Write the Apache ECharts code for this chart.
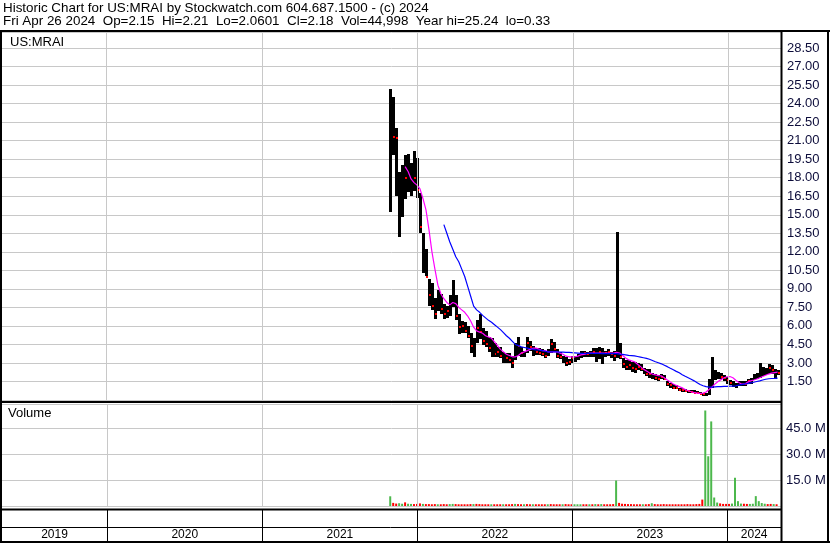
<!DOCTYPE html>
<html>
<head>
<meta charset="utf-8">
<script src="https://cdn.jsdelivr.net/npm/echarts@6/dist/echarts.min.js"></script>
<style>
  html, body { margin: 0; padding: 0; background: #ffffff; }
  #chart { width: 830px; height: 543px; }
</style>
</head>
<body>
<div id="chart"></div>
<script>
// ---- Weekly price history for US:MRAI (week ending Fridays from 2021-10-29) ----
const highs = [
  25.2, 24.5, 22.0, 18.5, 19.0, 19.8, 19.9, 19.2, 20.2, 19.6,
  16.8, 13.5, 12.2, 9.8, 9.5, 8.3, 8.9, 8.6, 7.8, 7.6,
  8.5, 9.7, 8.5, 7.0, 6.4, 6.3, 6.0, 5.4, 5.0, 6.5,
  7.0, 5.8, 5.6, 5.1, 5.0, 4.6, 4.3, 4.3, 3.9, 3.8,
  3.8, 3.6, 4.6, 5.1, 4.3, 4.0, 5.1, 4.8, 4.4, 4.2,
  4.2, 4.1, 4.0, 4.1, 4.9, 4.7, 4.1, 3.9, 3.6, 3.5,
  3.3, 3.6, 3.6, 3.7, 4.0, 4.0, 3.9, 4.0, 4.2, 4.2,
  4.3, 4.2, 4.0, 4.1, 3.9, 4.0, 13.6, 4.6, 3.4, 3.2,
  3.2, 3.1, 3.1, 3.0, 2.9, 2.6, 2.5, 2.5, 2.2, 2.1,
  2.0, 2.1, 2.0, 1.5, 1.4, 1.3, 1.2, 1.0, 1.0, 0.9,
  0.85, 0.8, 0.8, 0.7, 0.65, 0.6, 0.55, 1.7, 3.5, 2.4,
  2.3, 2.2, 2.0, 1.9, 1.6, 1.5, 1.4, 1.5, 1.5, 1.5,
  1.7, 1.8, 2.1, 2.2, 3.0, 2.7, 2.6, 2.9, 2.8, 2.5,
  2.4
];
const lows = [
  15.2, 19.8, 16.5, 13.2, 14.8, 16.2, 16.8, 16.5, 17.0, 16.4,
  13.6, 10.3, 10.0, 7.6, 7.3, 6.6, 7.2, 7.0, 6.6, 6.6,
  6.8, 7.5, 6.5, 5.4, 5.4, 5.4, 5.0, 3.8, 3.5, 4.6,
  5.0, 4.4, 4.3, 3.9, 3.5, 3.5, 3.5, 3.4, 3.0, 3.0,
  3.0, 2.6, 3.2, 3.6, 3.5, 3.5, 3.8, 4.0, 3.6, 3.6,
  3.6, 3.5, 3.4, 3.5, 3.8, 3.9, 3.4, 3.3, 3.0, 2.8,
  2.8, 3.0, 3.1, 3.2, 3.4, 3.5, 3.5, 3.5, 3.5, 3.1,
  3.3, 2.9, 3.5, 3.5, 3.4, 3.2, 3.4, 3.3, 2.6, 2.4,
  2.4, 2.3, 2.2, 2.4, 2.3, 2.1, 1.9, 1.8, 1.7, 1.6,
  1.5, 1.7, 1.6, 1.1, 1.0, 0.9, 0.85, 0.75, 0.7, 0.65,
  0.6, 0.55, 0.55, 0.5, 0.45, 0.35, 0.33, 0.4, 1.0, 1.6,
  1.7, 1.7, 1.5, 1.3, 1.2, 1.0, 1.0, 1.1, 1.1, 1.1,
  1.3, 1.3, 1.6, 1.7, 1.8, 2.0, 2.0, 2.1, 2.1, 1.7,
  2.0
];
const closes = [
  22.0, 21.3, 21.2, 14.2, 17.5, 18.0, 17.8, 17.0, 18.0, 17.0,
  14.0, 12.0, 10.0, 8.5, 7.6, 7.0, 8.3, 7.4, 7.0, 7.2,
  8.0, 8.6, 6.8, 5.9, 6.0, 5.6, 5.2, 4.4, 3.9, 5.8,
  5.5, 4.8, 4.5, 4.2, 3.8, 3.7, 3.9, 3.6, 3.3, 3.4,
  3.2, 3.0, 4.2, 4.4, 3.8, 3.7, 4.6, 4.3, 4.0, 3.9,
  3.8, 3.7, 3.6, 3.8, 4.5, 4.1, 3.6, 3.5, 3.2, 3.0,
  3.1, 3.4, 3.3, 3.5, 3.7, 3.8, 3.7, 3.8, 3.9, 3.8,
  3.9, 3.6, 3.8, 3.9, 3.7, 3.6, 4.4, 3.5, 2.9, 2.7,
  2.8, 2.6, 2.5, 2.7, 2.5, 2.3, 2.1, 2.1, 1.9, 1.8,
  1.7, 1.9, 1.7, 1.3, 1.2, 1.0, 0.95, 0.85, 0.8, 0.75,
  0.7, 0.65, 0.6, 0.55, 0.5, 0.45, 0.4, 1.4, 2.0, 2.1,
  2.0, 1.9, 1.8, 1.6, 1.4, 1.2, 1.1, 1.3, 1.3, 1.3,
  1.5, 1.6, 1.9, 2.0, 2.5, 2.4, 2.3, 2.6, 2.4, 2.1,
  2.18
];
// short moving average (magenta)
const maFast = [
  null, null, null, null, null, 18.9, 18.5, 17.9, 17.6, 17.4,
  17.1, 16.3, 15.4, 13.8, 12.0, 10.6, 9.3, 8.6, 8.2, 7.9,
  7.7, 7.9, 7.8, 7.5, 7.3, 7.1, 6.8, 6.4, 5.9, 5.6,
  5.5, 5.4, 5.2, 5.1, 5.0, 4.7, 4.4, 4.1, 3.9, 3.7,
  3.6, 3.5, 3.5, 3.6, 3.8, 3.9, 4.0, 4.1, 4.2, 4.2,
  4.1, 4.0, 4.0, 3.9, 3.9, 3.9, 3.9, 3.8, 3.7, 3.55,
  3.5, 3.5, 3.5, 3.55, 3.65, 3.7, 3.75, 3.8, 3.8, 3.8,
  3.8, 3.8, 3.8, 3.8, 3.8, 3.8, 3.85, 3.8, 3.6, 3.4,
  3.25, 3.17, 3.1, 2.9, 2.7, 2.5, 2.35, 2.2, 2.1, 2.03,
  1.97, 1.95, 1.8, 1.62, 1.45, 1.3, 1.18, 1.08, 0.98, 0.85,
  0.75, 0.67, 0.6, 0.56, 0.54, 0.56, 0.65, 0.85, 1.05, 1.3,
  1.5, 1.65, 1.8, 1.88, 1.9, 1.8, 1.6, 1.42, 1.28, 1.3,
  1.45, 1.55, 1.62, 1.7, 1.8, 1.9, 2.0, 2.1, 2.18, 2.22,
  2.25
];
// long moving average (blue)
const maSlow = [
  null, null, null, null, null, null, null, null, null, null,
  null, null, null, null, null, null, null, null, 14.2, 13.5,
  12.8, 12.2, 11.6, 11.2, 10.6, 10.0, 9.2, 8.4, 7.6, 7.3,
  7.1, 6.85, 6.65, 6.45, 6.3, 6.1, 5.9, 5.7, 5.45, 5.2,
  5.0, 4.75, 4.5, 4.4, 4.3, 4.25, 4.2, 4.15, 4.1, 4.05,
  4.05, 4.0, 3.95, 3.9, 3.9, 3.9, 3.9, 3.88, 3.87, 3.86,
  3.85, 3.83, 3.82, 3.8, 3.78, 3.78, 3.77, 3.77, 3.77, 3.77,
  3.77, 3.76, 3.76, 3.76, 3.76, 3.76, 3.75, 3.72, 3.7, 3.66,
  3.62, 3.6, 3.57, 3.52, 3.47, 3.42, 3.37, 3.3, 3.2, 3.1,
  3.02, 2.93, 2.82, 2.7, 2.57, 2.45, 2.32, 2.2, 2.05, 1.92,
  1.8, 1.68, 1.55, 1.4, 1.25, 1.15, 1.08, 1.05, 1.05, 1.07,
  1.08, 1.08, 1.1, 1.1, 1.12, 1.13, 1.15, 1.2, 1.25, 1.3,
  1.33, 1.38, 1.44, 1.5, 1.55, 1.62, 1.68, 1.72, 1.74, 1.75,
  1.77
];
// volume in millions of shares
const volumeM = [
  5.6, 1.8, 1.4, 1.6, 1.3, 2.1, 1.3, 1.2, 1.1, 1.2,
  1.5, 1.2, 1.1, 1.1, 1.0, 1.1, 1.0, 1.0, 1.1, 1.0,
  1.1, 1.2, 1.1, 1.0, 1.0, 1.0, 1.0, 1.1, 1.1, 1.2,
  1.1, 1.0, 1.0, 1.0, 1.0, 1.0, 1.0, 1.0, 1.0, 1.0,
  1.0, 1.1, 1.2, 1.1, 1.0, 1.0, 1.1, 1.0, 1.0, 1.0,
  1.0, 1.0, 1.0, 1.0, 1.1, 1.0, 1.0, 1.0, 1.0, 1.1,
  1.0, 1.0, 1.0, 1.0, 1.0, 1.0, 1.0, 1.0, 1.0, 1.1,
  1.0, 1.1, 1.0, 1.0, 1.0, 1.1, 14.7, 1.8, 1.3, 1.2,
  1.1, 1.1, 1.0, 1.0, 1.0, 1.0, 1.0, 1.1, 1.6, 1.1,
  1.0, 1.0, 1.1, 1.0, 1.0, 1.0, 1.0, 1.0, 1.0, 1.0,
  1.1, 1.0, 1.0, 1.1, 1.2, 3.7, 55.1, 28.7, 48.8, 4.9,
  2.0, 1.5, 1.2, 1.2, 1.2, 1.4, 16.3, 2.8, 1.4, 1.3,
  1.2, 1.2, 1.3, 5.7, 2.8, 1.7, 1.3, 1.1, 1.2, 1.1,
  1.0
];
// u = up week (green volume), d = down week (red volume, red close tick)
const volDir =
  'udduuduudd' + 'dudddduddd' + 'uuddddddud' + 'ddddudddud' +
  'ddudduddud' + 'ddduddddud' + 'dduuuddudu' + 'dudddduddd' +
  'ddddduddud' + 'dddddddddd' + 'dddddduuuu' + 'udddduuuud' +
  'duuuuuuddu' + 'd';

const yearLabels = ['2019', '2020', '2021', '2022', '2023', '2024'];
const yearStarts = ['2020-01-01', '2021-01-01', '2022-01-01', '2023-01-01', '2024-01-01'];
const headerLines = [
  'Historic Chart for US:MRAI by Stockwatch.com 604.687.1500 - (c) 2024',
  'Fri Apr 26 2024  Op=2.15  Hi=2.21  Lo=2.0601  Cl=2.18  Vol=44,998  Year hi=25.24  lo=0.33'
];

function ts(s) { const p = s.split('-').map(Number); return new Date(p[0], p[1] - 1, p[2]).getTime(); }
const weekTimes = highs.map((_, i) => new Date(2021, 9, 29 + 7 * i).getTime());
const axisStart = ts('2019-05-01');
const axisEnd = ts('2024-05-04');

const FONT = '"Liberation Sans", Arial, sans-serif';
const LABEL_COLOR = '#0c0c3a';
const GRID_GRAY = '#c8c8c8';

const chart = echarts.init(document.getElementById('chart'), null, { renderer: 'canvas' });

const yearLines = yearStarts.map(d => ({ xAxis: ts(d) }));
const gridMarkLine = {
  silent: true, symbol: 'none', animation: false,
  label: { show: false },
  lineStyle: { color: GRID_GRAY, width: 1, type: 'solid' },
  data: yearLines
};

function isStep(v, step) { return Math.abs(v / step - Math.round(v / step)) < 1e-6; }

chart.setOption({
  animation: false,
  backgroundColor: '#ffffff',
  grid: [
    { left: 2, right: 49, top: 32, height: 368 },
    { left: 2, right: 49, top: 404, height: 102 }
  ],
  xAxis: [
    { type: 'time', gridIndex: 0, min: axisStart, max: axisEnd,
      axisLine: { show: false }, axisTick: { show: false }, axisLabel: { show: false }, splitLine: { show: false } },
    { type: 'time', gridIndex: 1, min: axisStart, max: axisEnd,
      axisLine: { show: false }, axisTick: { show: false }, axisLabel: { show: false }, splitLine: { show: false } }
  ],
  yAxis: [
    { type: 'value', gridIndex: 0, position: 'right', min: 0, max: 29.8, interval: 1.5,
      axisLine: { show: false }, axisTick: { show: false },
      axisLabel: { margin: 6, color: LABEL_COLOR, fontFamily: FONT, fontSize: 13,
        formatter: v => (v > 0 && isStep(v, 1.5)) ? v.toFixed(2) : '' },
      splitLine: { lineStyle: { color: GRID_GRAY, width: 1 } } },
    { type: 'value', gridIndex: 1, position: 'right', min: 0, max: 58.85, interval: 15,
      axisLine: { show: false }, axisTick: { show: false },
      axisLabel: { margin: 5, color: LABEL_COLOR, fontFamily: FONT, fontSize: 13,
        formatter: v => (v > 0 && isStep(v, 15)) ? v.toFixed(1) + ' M' : '' },
      splitLine: { lineStyle: { color: GRID_GRAY, width: 1 } } }
  ],
  series: [
    { name: 'yearGridPrice', type: 'line', xAxisIndex: 0, yAxisIndex: 0, data: [], z: 1, markLine: gridMarkLine },
    { name: 'yearGridVolume', type: 'line', xAxisIndex: 1, yAxisIndex: 1, data: [], z: 1, markLine: gridMarkLine },
    {
      name: 'price', type: 'custom', xAxisIndex: 0, yAxisIndex: 0, z: 3, clip: true,
      data: highs.map((h, i) => [weekTimes[i], h, lows[i], closes[i], volDir[i] === 'd' ? 1 : 0]),
      encode: { x: 0, y: [1, 2] },
      renderItem: function (params, api) {
        const top = api.coord([api.value(0), api.value(1)]);
        const bot = api.coord([api.value(0), api.value(2)]);
        const cl = api.coord([api.value(0), api.value(3)]);
        const x = Math.round(top[0]) - 1;
        const children = [{
          type: 'rect',
          shape: { x: x, y: Math.round(top[1]), width: 3, height: Math.max(2, Math.round(bot[1] - top[1])) },
          style: { fill: '#000000' }
        }];
        if (api.value(4) === 1) {
          children.push({ type: 'rect', shape: { x: x + 1, y: Math.round(cl[1]) - 1, width: 2, height: 2 }, style: { fill: '#ff0000' } });
        }
        return { type: 'group', children: children };
      }
    },
    { name: 'maFast', type: 'line', xAxisIndex: 0, yAxisIndex: 0, z: 4, showSymbol: false, symbol: 'none',
      data: maFast.map((v, i) => [weekTimes[i], v]),
      lineStyle: { color: '#ff00ff', width: 1.2 } },
    { name: 'maSlow', type: 'line', xAxisIndex: 0, yAxisIndex: 0, z: 4, showSymbol: false, symbol: 'none',
      data: maSlow.map((v, i) => [weekTimes[i], v]),
      lineStyle: { color: '#0000ff', width: 1.2 } },
    { name: 'volume', type: 'bar', xAxisIndex: 1, yAxisIndex: 1, z: 3, barWidth: 2,
      data: volumeM.map((v, i) => ({ value: [weekTimes[i], v],
        itemStyle: { color: volDir[i] === 'u' ? '#4cb84c' : '#ff0000' } })) }
  ]
});

// Frame, header and the year strip under the volume panel
const plotLeft = 2, plotRight = 781;
const bounds = yearStarts.map(d => chart.convertToPixel({ xAxisIndex: 1 }, ts(d)));
const edges = [plotLeft].concat(bounds, [plotRight]);

function hline(y, x1, x2, w) {
  return { type: 'line', silent: true, z: 100, shape: { x1: x1, y1: y, x2: x2, y2: y }, style: { stroke: '#000', lineWidth: w } };
}
function vline(x, y1, y2, w) {
  return { type: 'line', silent: true, z: 100, shape: { x1: x, y1: y1, x2: x, y2: y2 }, style: { stroke: '#000', lineWidth: w } };
}

const g = [];
headerLines.forEach((t, i) => g.push({
  type: 'text', silent: true, z: 100, x: 3, y: 2 + i * 13,
  style: { text: t, font: '13.4px ' + FONT, fill: '#000000', textVerticalAlign: 'top' }
}));
g.push({ type: 'text', silent: true, z: 100, x: 10, y: 36,
  style: { text: 'US:MRAI', font: '13px ' + FONT, fill: '#000000', textVerticalAlign: 'top' } });
g.push({ type: 'text', silent: true, z: 100, x: 8, y: 407,
  style: { text: 'Volume', font: '13px ' + FONT, fill: '#000000', textVerticalAlign: 'top' } });

g.push(hline(31, 0, 830, 2));
g.push(hline(402, 0, plotRight, 2));
g.push(hline(509.5, 0, plotRight, 2));
g.push(hline(527.5, 0, plotRight, 1));
g.push(hline(542, 0, 830, 2));
g.push(vline(1, 31, 543, 2));
g.push(vline(plotRight + 0.5, 31, 543, 2));
g.push(vline(828, 31, 543, 2));
bounds.forEach(x => g.push(vline(Math.round(x) + 0.5, 510, 542, 1)));
yearLabels.forEach((lab, i) => g.push({
  type: 'text', silent: true, z: 100,
  x: (edges[i] + edges[i + 1]) / 2, y: 535,
  style: { text: lab, font: '12px ' + FONT, fill: '#000000', textAlign: 'center', textVerticalAlign: 'middle' }
}));

chart.setOption({ graphic: { elements: g } });
</script>
</body>
</html>
